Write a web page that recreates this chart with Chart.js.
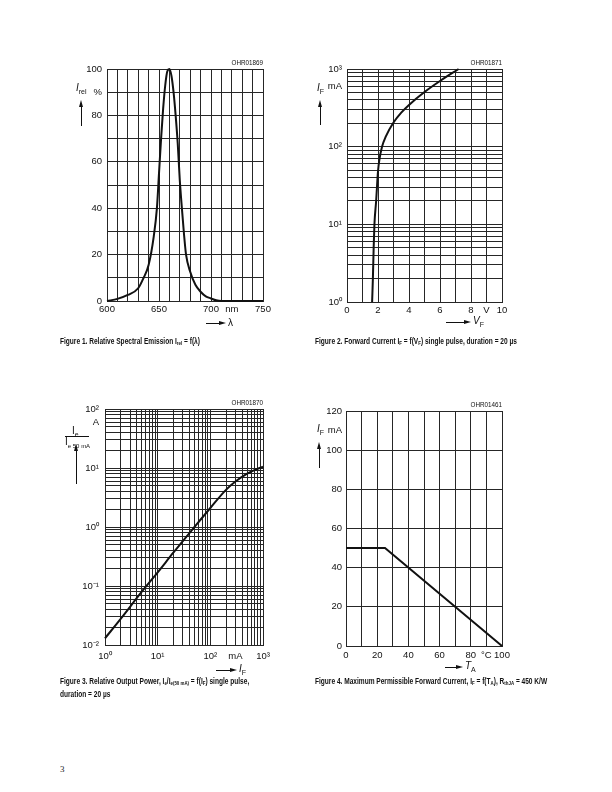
<!DOCTYPE html>
<html lang="en">
<head>
<meta charset="UTF-8">
<title>LED characteristics</title>
<script src="https://cdn.jsdelivr.net/npm/chart.js"></script>
<style>
  body { margin: 0; width: 612px; height: 792px; position: relative; background: #fff;
         font-family: 'Liberation Sans', Arial, sans-serif; color: #111; }
  canvas { position: absolute; }
  .lbl { position: absolute; white-space: nowrap; font-size: 10px; line-height: 1; }
  .lbl i { font-style: italic; }
  .sb { font-size: 7px; position: relative; top: 3px; }
  .code { position: absolute; font-size: 7px; line-height: 1; white-space: nowrap; transform: scaleX(0.9); transform-origin: right top; }
  .cap { position: absolute; font-weight: bold; font-size: 9px; line-height: 11px; white-space: nowrap;
         transform: scaleX(0.73); transform-origin: left top; }
  .cap sub { font-size: 6px; vertical-align: -1px; }
  .page { position: absolute; left: 60px; top: 764px; font-family: 'Liberation Serif', serif; font-size: 9px; color: #222; }
</style>
</head>
<body>
<div class="page">3</div>
<script>
// Figure 1: relative spectral emission (nm, %)
const wavelength  = [600, 610, 620, 630, 635, 640, 645, 648, 650, 652, 654, 656, 658, 660, 662, 664, 666, 668, 670, 672, 674, 676, 680, 685, 690, 695, 700, 705, 710, 750];
const relEmission = [0, 0.9, 2.6, 5.5, 9.8, 15.5, 28, 40, 55, 70, 83, 93, 99, 100, 97, 90, 80, 68, 52, 40, 29, 20, 12.6, 7, 4, 2, 1.1, 0.3, 0, 0];
const fig1XGrid = [600, 610, 620, 630, 640, 650, 660, 670, 680, 690, 700, 710, 720, 730, 740, 750];
const fig1YGrid = [0, 10, 20, 30, 40, 50, 60, 70, 80, 90, 100];
const fig1XLabelAt = [600, 650, 700, 720, 750];
const fig1XLabels  = ['600', '650', '700', 'nm', '750'];
const fig1YLabelAt = [0, 20, 40, 60, 80, 90, 100];
const fig1YLabels  = ['0', '20', '40', '60', '80', '%', '100'];

// Figure 2: forward current vs forward voltage (V, mA)
const forwardVoltage = [1.62, 1.67, 1.72, 1.77, 1.88, 2.0, 2.1, 2.26, 2.5, 3.0, 3.5, 4.0, 5.0, 6.0, 7.2];
const forwardCurrent = [1, 2, 5, 10, 20, 48, 70, 100, 135, 205, 275, 345, 505, 700, 1000];
const fig2XGrid = [0, 1, 2, 3, 4, 5, 6, 7, 8, 9, 10];
const fig2XLabelAt = [0, 2, 4, 6, 8, 9, 10];
const fig2XLabels  = ['0', '2', '4', '6', '8', 'V', '10'];
const fig2YLabelAt = [1, 10, 100, 600, 1000];
const fig2YLabels  = ['10⁰', '10¹', '10²', 'mA', '10³'];

// Figure 3: relative output power vs forward current (mA, Ie/Ie50mA)
const driveCurrent = [1, 2, 5, 10, 20, 50, 100, 200, 300, 500, 700, 1000];
const relOutput    = [0.013, 0.028, 0.08, 0.17, 0.37, 1.0, 2.1, 4.3, 5.9, 8.0, 9.3, 10.5];
const fig3XLabelAt = [1, 10, 100, 300, 1000];
const fig3XLabels  = ['10⁰', '10¹', '10²', 'mA', '10³'];
const fig3YLabelAt = [0.01, 0.1, 1, 10, 60, 100];
const fig3YLabels  = ['10⁻²', '10⁻¹', '10⁰', '10¹', 'A', '10²'];

// Figure 4: max forward current vs ambient temperature (°C, mA)
const ambientTemp = [0, 25, 100];
const maxCurrent  = [50, 50, 0];
const fig4XGrid = [0, 10, 20, 30, 40, 50, 60, 70, 80, 90, 100];
const fig4YGrid = [0, 20, 40, 60, 80, 100, 110, 120];
const fig4XLabelAt = [0, 20, 40, 60, 80, 90, 100];
const fig4XLabels  = ['0', '20', '40', '60', '80', '°C', '100'];
const fig4YLabelAt = [0, 20, 40, 60, 80, 100, 110, 120];
const fig4YLabels  = ['0', '20', '40', '60', '80', '100', 'mA', '120'];

const INK = '#111';
const GRID = '#262626';

function logGrid(e0, e1) {
  const out = [];
  for (let e = e0; e < e1; e++)
    for (let m = 1; m < 10; m++) out.push(Number((m * Math.pow(10, e)).toPrecision(2)));
  out.push(Math.pow(10, e1));
  return out;
}

function labelMap(at, text) {
  const m = {};
  at.forEach((v, i) => { m[v] = text[i]; });
  return m;
}

function axis(a, fit) {
  const labels = labelMap(a.at, a.text);
  return {
    type: a.type || 'linear', min: a.min, max: a.max,
    grid: {
      color: ctx => (a.hide || []).includes(ctx.tick && ctx.tick.value) ? 'rgba(0,0,0,0)' : GRID,
      lineWidth: 1, drawTicks: false
    },
    border: { color: GRID, width: 1 },
    ticks: {
      padding: a.pad, autoSkip: false, maxRotation: 0, color: INK,
      font: { size: 9.5 },
      callback: v => labels[v] ?? ''
    },
    afterBuildTicks: s => { s.ticks = a.grid.map(v => ({ value: v })); },
    afterFit: fit
  };
}

// box = canvas placement, area = plot rectangle in page pixels [l, t, r, b]
function plot(box, area, xs, ys, xAxis, yAxis, smooth) {
  const c = document.createElement('canvas');
  c.width = box[2]; c.height = box[3];
  c.style.left = box[0] + 'px'; c.style.top = box[1] + 'px';
  document.body.appendChild(c);
  const yW = area[0] - box[0];
  const padTop = area[1] - box[1];
  const padRight = box[0] + box[2] - area[2];
  const xH = box[1] + box[3] - area[3];
  return new Chart(c, {
    type: 'line',
    data: {
      datasets: [{
        data: xs.map((x, i) => ({ x: x, y: ys[i] })),
        borderColor: INK, borderWidth: 2, pointRadius: 0,
        cubicInterpolationMode: smooth ? 'monotone' : 'default', tension: 0,
        clip: false
      }]
    },
    options: {
      responsive: false, animation: false, events: [],
      layout: { padding: { top: padTop, right: padRight, left: 0, bottom: 0 } },
      plugins: { legend: { display: false }, tooltip: { enabled: false } },
      scales: {
        x: axis(xAxis, s => { s.height = xH; }),
        y: axis(yAxis, s => { s.width = yW; })
      }
    }
  });
}

Chart.defaults.font.family = "'Liberation Sans', Arial, sans-serif";
Chart.defaults.color = INK;

plot([40, 50, 240, 280], [107, 69, 263, 301], wavelength, relEmission,
  { min: 600, max: 750, grid: fig1XGrid, at: fig1XLabelAt, text: fig1XLabels, pad: 3 },
  { min: 0, max: 100, grid: fig1YGrid, at: fig1YLabelAt, text: fig1YLabels, pad: 5 }, true);

plot([290, 50, 240, 280], [347, 69, 502, 302], forwardVoltage, forwardCurrent,
  { min: 0, max: 10, grid: fig2XGrid, at: fig2XLabelAt, text: fig2XLabels, pad: 3 },
  { type: 'logarithmic', min: 1, max: 1000, grid: logGrid(0, 3), at: fig2YLabelAt, text: fig2YLabels, pad: 5 }, true);

plot([40, 390, 240, 280], [105, 409, 263, 645], driveCurrent, relOutput,
  { type: 'logarithmic', min: 1, max: 1000, grid: logGrid(0, 3), at: fig3XLabelAt, text: fig3XLabels, pad: 6 },
  { type: 'logarithmic', min: 0.01, max: 100, grid: logGrid(-2, 2), at: fig3YLabelAt, text: fig3YLabels, pad: 6 }, true);

plot([290, 390, 240, 280], [346, 411, 502, 646], ambientTemp, maxCurrent,
  { min: 0, max: 100, grid: fig4XGrid, at: fig4XLabelAt, text: fig4XLabels, pad: 4 },
  { min: 0, max: 120, grid: fig4YGrid, at: fig4YLabelAt, text: fig4YLabels, pad: 4, hide: [110] }, false);

// overlays: axis names, arrows, drawing codes, captions
function put(html, x, y, cls) {
  const d = document.createElement('div');
  d.className = cls || 'lbl';
  d.style.left = x + 'px'; d.style.top = y + 'px';
  d.innerHTML = html;
  document.body.appendChild(d);
  return d;
}
function box(x, y, w, h, extra) {
  const d = document.createElement('div');
  d.style.cssText = 'position:absolute;left:' + x + 'px;top:' + y + 'px;width:' + w + 'px;height:' + h + 'px;' + (extra || '');
  document.body.appendChild(d);
}
function arrowUp(x, tip, tail) {
  box(x - 2.5, tip, 0, 0, 'border-left:2.5px solid transparent;border-right:2.5px solid transparent;border-bottom:7px solid ' + INK);
  box(x - 0.5, tip + 6, 1, tail - tip - 6, 'background:' + INK);
}
function arrowRight(tail, tip, y) {
  box(tip - 7, y - 2.5, 0, 0, 'border-top:2.5px solid transparent;border-bottom:2.5px solid transparent;border-left:7px solid ' + INK);
  box(tail, y - 0.5, tip - tail - 6, 1, 'background:' + INK);
}
function code(txt, right, y) {
  const d = put(txt, 0, y, 'code');
  d.style.left = ''; d.style.right = (612 - right) + 'px';
}

// figure 1
put('<i>I</i><span class="sb">rel</span>', 76, 83);
arrowUp(81, 100, 126);
arrowRight(206, 226, 323);
put('λ', 228, 318);
code('OHR01869', 263, 59);

// figure 2
put('<i>I</i><span class="sb">F</span>', 317, 83);
arrowUp(320, 100, 125);
arrowRight(446, 471, 322);
put('<i>V</i><span class="sb">F</span>', 473, 316);
code('OHR01871', 502, 59);

// figure 3
put('I<span class="sb">e</span>', 72, 426);
box(65, 436, 24, 1, 'background:' + INK);
put('I<span class="sb" style="font-size:6px">e 50 mA</span>', 65, 437);
arrowUp(76, 444, 484);
arrowRight(216, 237, 670);
put('<i>I</i><span class="sb">F</span>', 239, 664);
code('OHR01870', 263, 399);

// figure 4
put('<i>I</i><span class="sb">F</span>', 317, 424);
arrowUp(319, 442, 468);
arrowRight(445, 463, 667);
put('<i>T</i><span class="sb">A</span>', 465, 661);
code('OHR01461', 502, 401);

put('Figure 1. Relative Spectral Emission I<sub>rel</sub> = f(λ)', 60, 336, 'cap');
put('Figure 2. Forward Current I<sub>F</sub> = f(V<sub>F</sub>) single pulse, duration = 20 µs', 315, 336, 'cap');
put('Figure 3. Relative Output Power, I<sub>e</sub>/I<sub>e(50 mA)</sub> = f(I<sub>F</sub>) single pulse,<br>duration = 20 µs', 60, 676, 'cap');
put('Figure 4. Maximum Permissible Forward Current, I<sub>F</sub> = f(T<sub>A</sub>), R<sub>thJA</sub> = 450 K/W', 315, 676, 'cap');
</script>
</body>
</html>
